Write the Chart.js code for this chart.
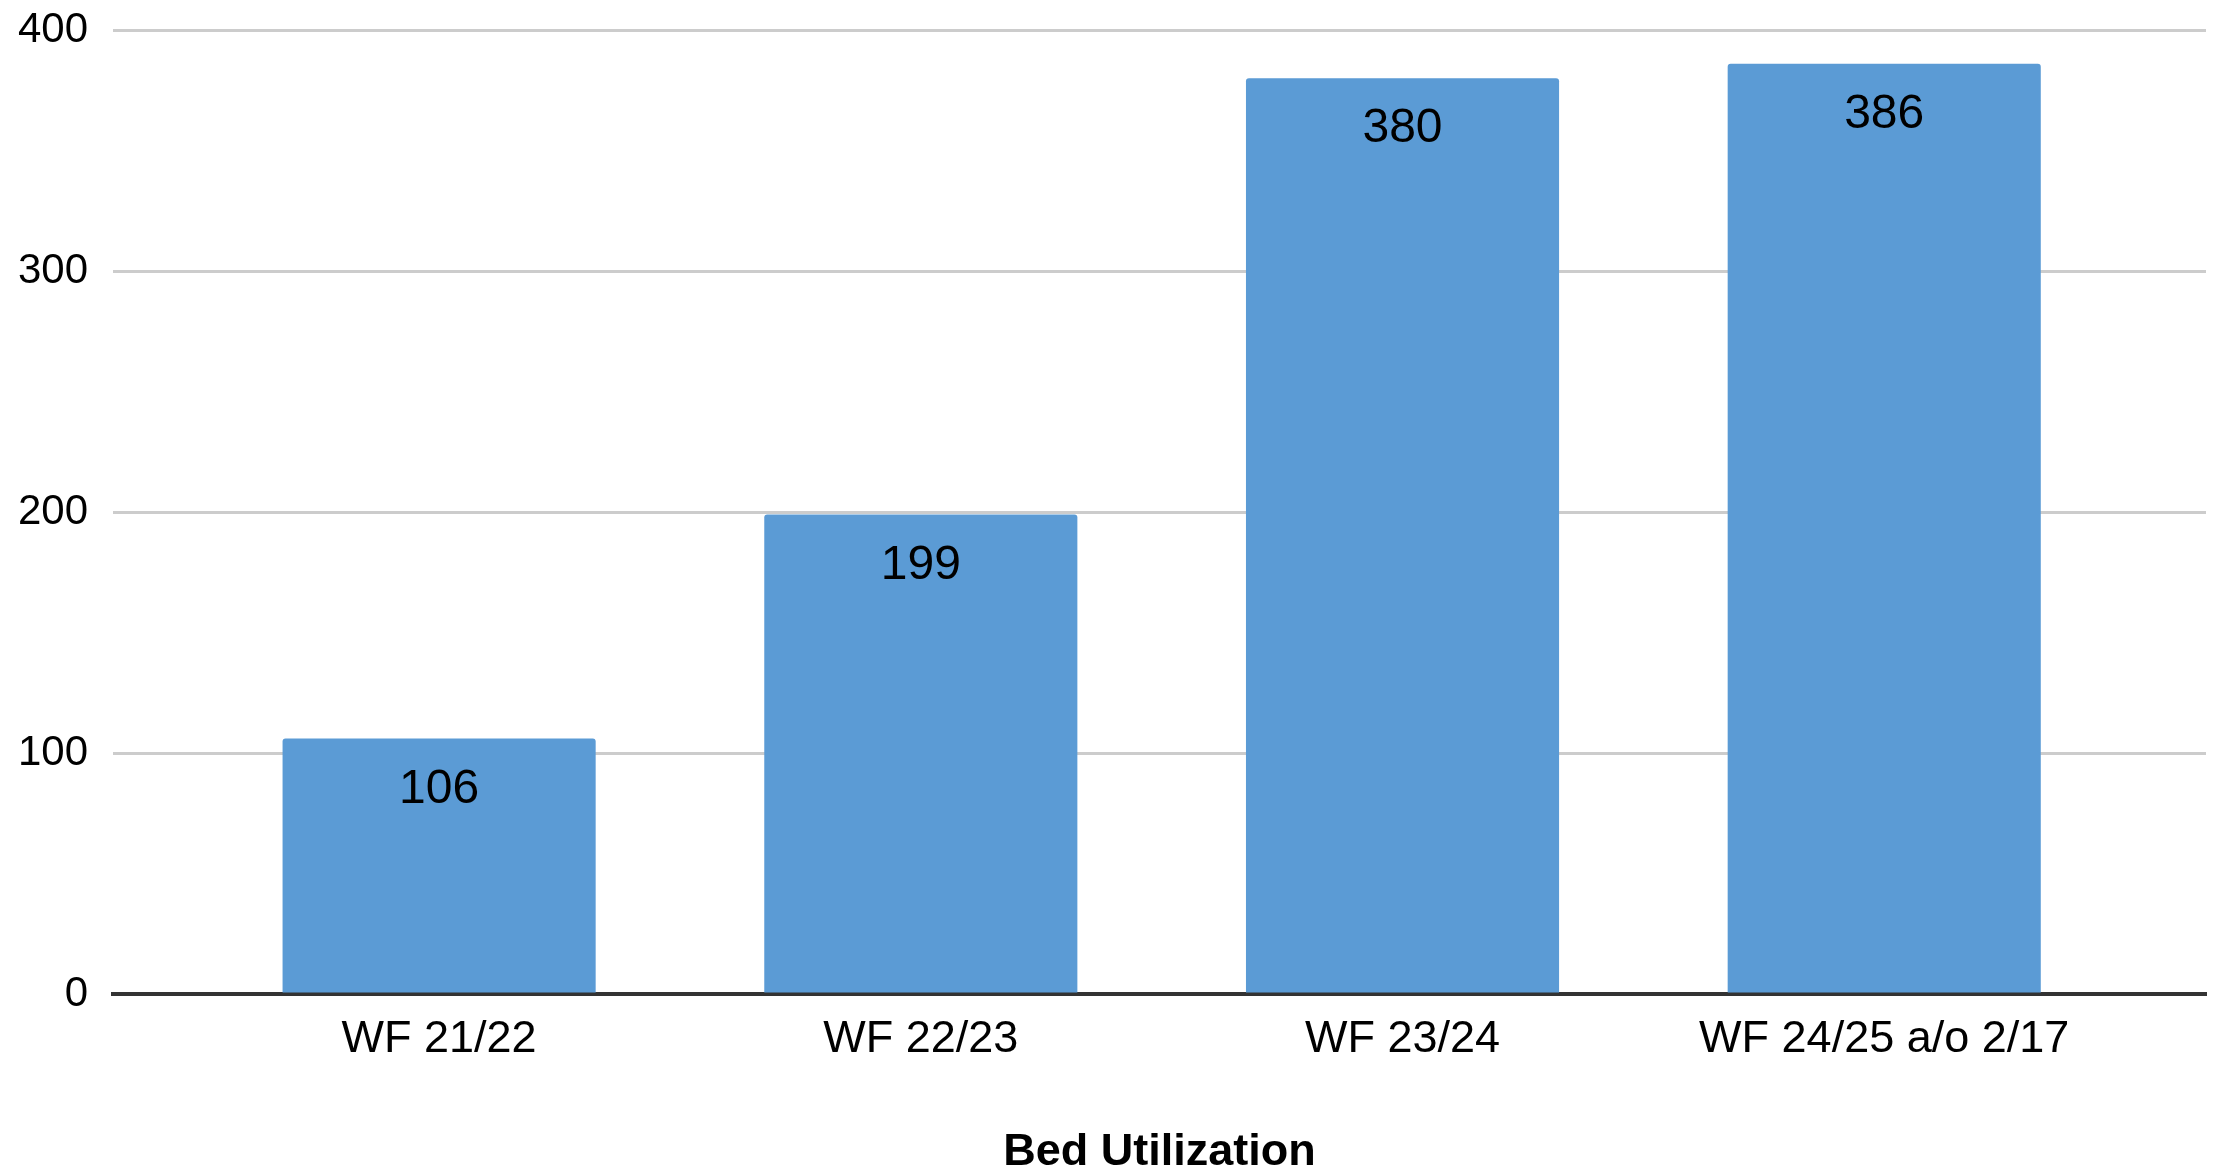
<!DOCTYPE html>
<html>
<head>
<meta charset="utf-8">
<script src="https://cdn.jsdelivr.net/npm/chart.js@4/dist/chart.umd.min.js"></script>
<style>
  html, body { margin: 0; padding: 0; background: #ffffff; }
  #wrap { width: 2224px; height: 1171px; }
</style>
</head>
<body>
<div id="wrap"><canvas id="c" width="2224" height="1171"></canvas></div>
<script>
const categories = ["WF 21/22", "WF 22/23", "WF 23/24", "WF 24/25 a/o 2/17"];
const bedValues = [106, 199, 380, 386];
const yTicks = [0, 100, 200, 300, 400];
const axisTitle = "Bed Utilization";

const FONT = "'Liberation Sans', Arial, sans-serif";

const points = categories.map((c, i) => ({ x: i, y: bedValues[i] }));

const valueLabels = {
  id: 'valueLabels',
  afterDatasetsDraw(chart) {
    const ctx = chart.ctx;
    const meta = chart.getDatasetMeta(0);
    ctx.save();
    ctx.font = "48px " + FONT;
    ctx.fillStyle = "#000000";
    ctx.textAlign = "center";
    ctx.textBaseline = "middle";
    meta.data.forEach((bar, i) => {
      ctx.fillText(String(bedValues[i]), bar.x, bar.y + 51);
    });
    ctx.restore();
  }
};

new Chart(document.getElementById('c'), {
  type: 'bar',
  data: {
    datasets: [{
      label: axisTitle,
      data: points,
      backgroundColor: '#5b9bd5',
      borderWidth: 0,
      borderRadius: { topLeft: 3, topRight: 3, bottomLeft: 0, bottomRight: 0 },
      borderSkipped: 'bottom',
      categoryPercentage: 1.0,
      barPercentage: 0.65
    }]
  },
  options: {
    responsive: false,
    devicePixelRatio: 1,
    animation: false,
    layout: { padding: { top: 30, right: 18, bottom: 0, left: 0 } },
    plugins: {
      legend: { display: false },
      tooltip: { enabled: false },
      title: { display: false }
    },
    scales: {
      x: {
        type: 'linear',
        offset: false,
        min: -0.677,
        max: 3.668,
        grid: { display: false, drawTicks: false, offset: false },
        border: { display: true, color: '#333333', width: 4 },
        afterBuildTicks(scale) {
          scale.ticks = categories.map((c, i) => ({ value: i }));
        },
        afterFit(scale) { scale.height = 177; },
        ticks: {
          autoSkip: false,
          maxRotation: 0,
          padding: 19,
          color: '#000000',
          font: { family: FONT, size: 45 },
          callback: (v) => categories[v]
        },
        title: {
          display: true,
          text: axisTitle,
          color: '#000000',
          font: { family: FONT, size: 45, weight: 'bold', lineHeight: 0.8 },
          padding: { top: 0, bottom: 0 }
        }
      },
      y: {
        min: 0,
        max: 400,
        afterBuildTicks(scale) {
          scale.ticks = yTicks.map(v => ({ value: v }));
        },
        afterFit(scale) {
          scale.width = 113;
          scale.paddingTop = 0;
          scale.paddingBottom = 0;
        },
        grid: {
          drawTicks: false,
          lineWidth: 3,
          color: (ctx) => (ctx.tick && ctx.tick.value === 0) ? 'rgba(0,0,0,0)' : '#cccccc'
        },
        border: { display: false },
        ticks: {
          padding: 25,
          color: '#000000',
          font: { family: FONT, size: 42 }
        }
      }
    }
  },
  plugins: [valueLabels]
});
</script>
</body>
</html>
